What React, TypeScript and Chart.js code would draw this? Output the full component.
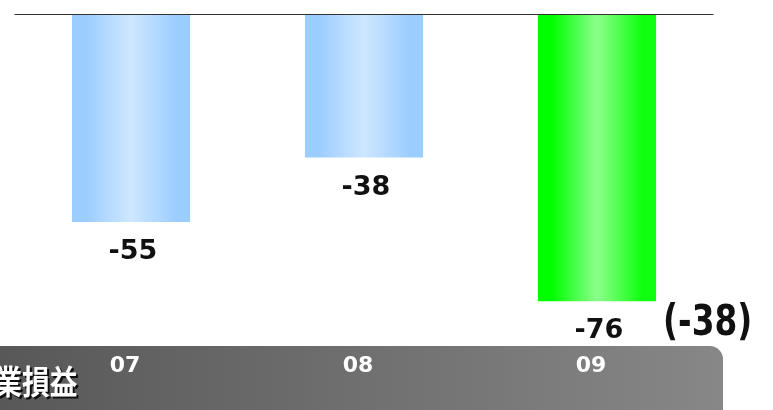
import React, { useEffect, useRef } from "react";
import { Chart, registerables } from "chart.js";

Chart.register(...registerables);

// ---- data ----
const categories = ["07", "08", "09"];
const values = [-55, -38, -76];
const highlighted = [false, false, true];
const noteText = "(-38)";
const titleText = "営業損益";
const yMin = -88;
const yMax = 0;

// ---- styles ----
const BLUE_STOPS = ["#9ccdff", "#cfe7ff", "#9ccdff"];
const GREEN_STOPS = ["#00ff00", "#8cff8c", "#10ff10"];
const BAR_PCT = 0.507;

function barFill(ctx: any) {
  const chart = ctx.chart;
  const i = ctx.dataIndex;
  const stops = highlighted[i] ? GREEN_STOPS : BLUE_STOPS;
  const xs = chart.scales && chart.scales.x;
  if (!chart.chartArea || !xs || typeof i !== "number") return stops[0];
  const cx = xs.getPixelForValue(i);
  const half = ((xs.width / categories.length) * BAR_PCT) / 2;
  const g = chart.ctx.createLinearGradient(cx - half, 0, cx + half, 0);
  g.addColorStop(0, stops[0]);
  g.addColorStop(0.12, stops[0]);
  g.addColorStop(0.5, stops[1]);
  g.addColorStop(0.88, stops[2]);
  g.addColorStop(1, stops[2]);
  return g;
}

const decorPlugin = {
  id: "decor",
  beforeDraw(chart: any) {
    const { ctx, chartArea } = chart;
    const top = chartArea.bottom - 0.5;
    const right = chartArea.right + 9.5;
    const r = 13;
    ctx.save();
    const g = ctx.createLinearGradient(0, 0, right, 0);
    g.addColorStop(0, "#585858");
    g.addColorStop(1, "#878787");
    ctx.beginPath();
    ctx.moveTo(-30, top);
    ctx.lineTo(right - r, top);
    ctx.arcTo(right, top, right, top + r, r);
    ctx.lineTo(right, chart.height + 30);
    ctx.lineTo(-30, chart.height + 30);
    ctx.closePath();
    ctx.fillStyle = g;
    ctx.fill();

    // title text inside band
    ctx.translate(77.5, top + 35.5);
    ctx.scale(0.84, 1);
    ctx.font = "bold 33px 'Noto Sans CJK JP'";
    ctx.textAlign = "right";
    ctx.textBaseline = "middle";
    ctx.shadowColor = "rgba(0,0,0,0.85)";
    ctx.shadowOffsetX = 2;
    ctx.shadowOffsetY = 2;
    ctx.shadowBlur = 0;
    ctx.fillStyle = "#ffffff";
    ctx.fillText(titleText, 0, 0);
    ctx.restore();
  },
  afterDatasetsDraw(chart: any) {
    const { ctx, chartArea } = chart;
    const y0 = chart.scales.y.getPixelForValue(0);
    ctx.save();
    // zero line
    ctx.strokeStyle = "#333333";
    ctx.lineWidth = 1.2;
    ctx.beginPath();
    ctx.moveTo(chartArea.left, y0 + 0.5);
    ctx.lineTo(chartArea.right, y0 + 0.5);
    ctx.stroke();

    // value labels
    const meta = chart.getDatasetMeta(0);
    ctx.fillStyle = "#111111";
    ctx.font = "bold 27px 'DejaVu Sans'";
    ctx.textAlign = "center";
    ctx.textBaseline = "alphabetic";
    meta.data.forEach((el: any, i: number) => {
      ctx.fillText(String(values[i]), el.x + 2, el.y + 37);
    });

    // note next to highlighted bar
    const hi = highlighted.indexOf(true);
    if (hi >= 0) {
      const el = meta.data[hi];
      ctx.translate(el.x + el.width / 2 + 7, el.y + 33.5);
      ctx.scale(0.78, 1);
      ctx.font = "bold 42px 'DejaVu Sans'";
      ctx.textAlign = "left";
      ctx.fillText(noteText, 0, 0);
    }
    ctx.restore();
  },
};

export default function App() {
  const ref = useRef<HTMLCanvasElement>(null);
  useEffect(() => {
    const canvas = ref.current;
    if (!canvas) return;
    const chart = new Chart(canvas, {
      type: "bar",
      data: {
        labels: categories,
        datasets: [
          {
            data: values,
            backgroundColor: barFill as any,
            borderWidth: 0,
            categoryPercentage: 1,
            barPercentage: BAR_PCT,
          },
        ],
      },
      options: {
        responsive: false,
        animation: false,
        devicePixelRatio: 1,
        layout: { padding: { top: 14, left: 14.5, right: 59.5, bottom: 24 } },
        plugins: { legend: { display: false }, tooltip: { enabled: false } },
        scales: {
          x: {
            offset: true,
            grid: { display: false, drawTicks: false },
            border: { display: false },
            ticks: {
              color: "#ffffff",
              font: { family: "'DejaVu Sans'", weight: "bold", size: 22 },
              padding: 6.5,
              labelOffset: -6,
              maxRotation: 0,
              autoSkip: false,
            },
          },
          y: { display: false, min: yMin, max: yMax },
        },
      },
      plugins: [decorPlugin],
    });
    return () => chart.destroy();
  }, []);
  return (
    <div style={{ position: "fixed", left: 0, top: 0, width: 773, height: 410, background: "#fff" }}>
      <canvas ref={ref} width={773} height={410} style={{ display: "block" }} />
    </div>
  );
}
